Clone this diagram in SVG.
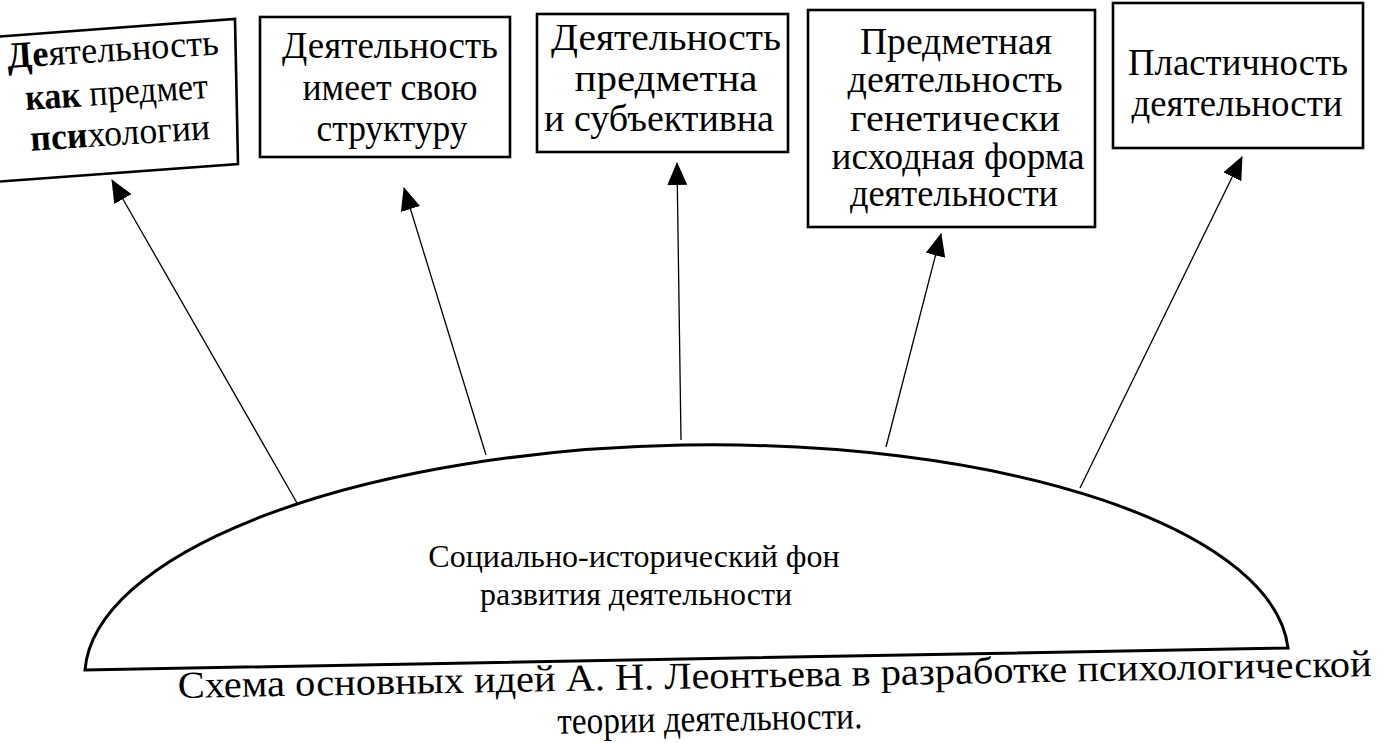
<svg xmlns="http://www.w3.org/2000/svg" width="1391" height="743" viewBox="0 0 1391 743">
<style>
.box{fill:#fff;stroke:#000;stroke-width:2.6}
.t{font-family:"Liberation Serif","DejaVu Serif","Times New Roman",serif;font-size:37px;fill:#000;text-anchor:middle}
.d{font-family:"Liberation Serif","DejaVu Serif","Times New Roman",serif;font-size:32px;fill:#000;text-anchor:middle}
.c{font-family:"Liberation Serif","DejaVu Serif","Times New Roman",serif;font-size:38px;fill:#000}
.conn{stroke:#000;stroke-width:1.3;fill:none;marker-end:url(#ah)}
.b{font-weight:bold}
</style>
<defs>
<marker id="ah" markerUnits="userSpaceOnUse" markerWidth="24" markerHeight="20" refX="22" refY="10" orient="auto">
<path d="M0,0 L23,10 L0,20 Z" fill="#000"/>
</marker>
</defs>
<rect width="1391" height="743" fill="#fff"/>

<g id="connectors">
<line class="conn" x1="297" y1="503" x2="112" y2="180"/>
<line class="conn" x1="486" y1="455" x2="404" y2="188"/>
<line class="conn" x1="681" y1="440" x2="677" y2="163"/>
<line class="conn" x1="886" y1="447" x2="941" y2="234"/>
<line class="conn" x1="1080" y1="488" x2="1242" y2="157"/>
</g>

<g id="node1">
<polygon class="box" points="-6,37 235,19 238,164 -6,182"/>
<g transform="rotate(-3.7 118 100)">
<text class="t" x="116" y="61" textLength="212" lengthAdjust="spacingAndGlyphs"><tspan class="b">Де</tspan>ятельность</text>
<text class="t" x="117" y="104" textLength="183" lengthAdjust="spacingAndGlyphs"><tspan class="b">как</tspan> предмет</text>
<text class="t" x="118" y="145" textLength="180" lengthAdjust="spacingAndGlyphs"><tspan class="b">пси</tspan>хологии</text>
</g>
</g>

<g id="node2">
<rect class="box" x="260" y="17" width="250" height="140"/>
<text class="t" x="390" y="58" textLength="216" lengthAdjust="spacingAndGlyphs">Деятельность</text>
<text class="t" x="390" y="100" textLength="175" lengthAdjust="spacingAndGlyphs">имеет свою</text>
<text class="t" x="392" y="141" textLength="151" lengthAdjust="spacingAndGlyphs">структуру</text>
</g>

<g id="node3">
<rect class="box" x="537" y="14" width="251" height="138"/>
<text class="t" x="666" y="50" textLength="230" lengthAdjust="spacingAndGlyphs">Деятельность</text>
<text class="t" x="666" y="91" textLength="183" lengthAdjust="spacingAndGlyphs">предметна</text>
<text class="t" x="659" y="131" textLength="230" lengthAdjust="spacingAndGlyphs">и субъективна</text>
</g>

<g id="node4">
<rect class="box" x="808" y="10" width="287" height="217"/>
<text class="t" x="956" y="54" textLength="192" lengthAdjust="spacingAndGlyphs">Предметная</text>
<text class="t" x="955" y="92" textLength="215" lengthAdjust="spacingAndGlyphs">деятельность</text>
<text class="t" x="955" y="131" textLength="210" lengthAdjust="spacingAndGlyphs">генетически</text>
<text class="t" x="958" y="169" textLength="253" lengthAdjust="spacingAndGlyphs">исходная форма</text>
<text class="t" x="954" y="206" textLength="208" lengthAdjust="spacingAndGlyphs">деятельности</text>
</g>

<g id="node5">
<rect class="box" x="1113" y="3" width="250" height="145"/>
<text class="t" x="1238" y="75" textLength="220" lengthAdjust="spacingAndGlyphs">Пластичность</text>
<text class="t" x="1237" y="116" textLength="211" lengthAdjust="spacingAndGlyphs">деятельности</text>
</g>

<g id="node6">
<path d="M85,670 A602,222 -1.05 0 1 1288,648 Z" fill="none" stroke="#000" stroke-width="3"/>
<text class="d" x="634" y="567">Социально-исторический фон</text>
<text class="d" x="636" y="605">развития деятельности</text>
</g>

<g id="caption">
<text class="c" x="178" y="698" transform="rotate(-1.05 178 698)" textLength="1194" lengthAdjust="spacingAndGlyphs">Схема основных идей А. Н. Леонтьева в разработке психологической</text>
<text class="c" x="710" y="731" text-anchor="middle" transform="rotate(-1.05 710 731)" textLength="305" lengthAdjust="spacingAndGlyphs">теории деятельности.</text>
</g>
</svg>
